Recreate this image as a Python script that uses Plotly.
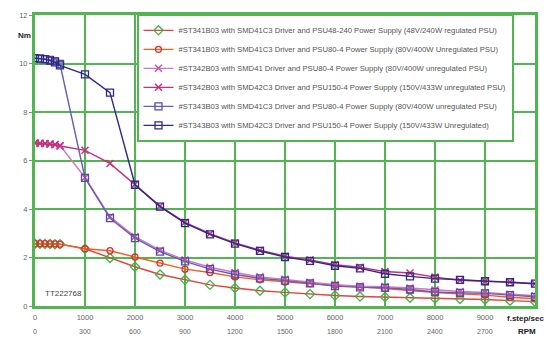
import plotly.graph_objects as go

# Speed points (full steps per second)
speed = [0, 100, 200, 300, 400, 500, 1000, 1500, 2000, 2500, 3000, 3500, 4000,
         4500, 5000, 5500, 6000, 6500, 7000, 7500, 8000, 8500, 9000, 9500, 10000]

# Pull-out torque (Nm) for each motor / driver / power supply combination
t_st341_psu48 = [2.57, 2.57, 2.56, 2.56, 2.55, 2.55, 2.36, 1.98, 1.62, 1.30, 1.08, 0.87, 0.74,
                 0.63, 0.56, 0.49, 0.43, 0.39, 0.37, 0.34, 0.31, 0.29, 0.27, 0.22, 0.18]
t_st341_psu80 = [2.57, 2.57, 2.57, 2.56, 2.56, 2.55, 2.36, 2.28, 2.02, 1.77, 1.52, 1.38, 1.20,
                 1.08, 0.99, 0.92, 0.86, 0.80, 0.72, 0.64, 0.55, 0.50, 0.45, 0.36, 0.30]
t_st342_psu80 = [6.72, 6.70, 6.70, 6.68, 6.66, 6.62, 5.30, 3.68, 2.86, 2.30, 1.90, 1.60, 1.38,
                 1.20, 1.10, 0.98, 0.88, 0.82, 0.80, 0.74, 0.66, 0.60, 0.56, 0.48, 0.42]
t_st342_psu150 = [6.72, 6.71, 6.70, 6.68, 6.65, 6.60, 6.42, 5.88, 5.02, 4.12, 3.45, 2.98, 2.60,
                  2.30, 2.05, 1.90, 1.70, 1.60, 1.42, 1.36, 1.19, 1.06, 1.02, 0.99, 0.92]
t_st343_psu80 = [10.22, 10.20, 10.18, 10.15, 10.10, 9.98, 5.28, 3.62, 2.80, 2.24, 1.84, 1.52, 1.30,
                 1.14, 1.05, 0.93, 0.82, 0.77, 0.75, 0.68, 0.58, 0.54, 0.52, 0.45, 0.38]
t_st343_psu150 = [10.22, 10.20, 10.18, 10.12, 10.05, 9.92, 9.55, 8.80, 5.00, 4.10, 3.42, 2.95, 2.57,
                  2.27, 2.02, 1.86, 1.66, 1.55, 1.33, 1.22, 1.13, 1.08, 1.02, 0.98, 0.92]

names = [
    "#ST341B03 with SMD41C3 Driver and PSU48-240 Power Supply (48V/240W regulated PSU)",
    "#ST341B03 with SMD41C3 Driver and PSU80-4 Power Supply (80V/400W Unregulated PSU)",
    "#ST342B03 with SMD41 Driver and PSU80-4 Power Supply (80V/400W unregulated PSU)",
    "#ST342B03 with SMD42C3 Driver and PSU150-4 Power Supply (150V/433W unregulated PSU)",
    "#ST343B03 with SMD41C3 Driver and PSU80-4 Power Supply (80V/400W unregulated PSU)",
    "#ST343B03 with SMD42C3 Driver and PSU150-4 Power Supply (150V/433W Unregulated)",
]

# Axis tick labels: step rate and the equivalent shaft speed (200 steps/rev)
step_ticks = [0, 1000, 2000, 3000, 4000, 5000, 6000, 7000, 8000, 9000]
rpm_ticks = ["0", "300", "600", "900", "1200", "1500", "1800", "2100", "2400", "2700"]
torque_ticks = [0, 2, 4, 6, 8, 10, 12]

GREEN = "#52b552"
FONT = "Liberation Sans, Arial, sans-serif"

styles = [
    dict(line="#e8403c", marker=dict(symbol="diamond-open", color="#3cb44a", size=7)),
    dict(line="#f0601e", marker=dict(symbol="circle-open", color="#e0302a", size=6)),
    dict(line="#d276c4", marker=dict(symbol="x-thin", color="#cc50b0", size=7,
                                     line=dict(width=1.5, color="#cc50b0"))),
    dict(line="#c4317c", marker=dict(symbol="x-thin", color="#c4317c", size=7,
                                     line=dict(width=1.5, color="#c4317c"))),
    dict(line="#6b5bb2", marker=dict(symbol="square-open", color="#5a4aa8", size=7)),
    dict(line="#2e2a86", marker=dict(symbol="square-open", color="#2e2a86", size=7)),
]

series = [t_st341_psu48, t_st341_psu80, t_st342_psu80, t_st342_psu150, t_st343_psu80, t_st343_psu150]

fig = go.Figure()
for i, (name, vals, st) in enumerate(zip(names, series, styles)):
    mk = dict(st["marker"])
    if "line" not in mk:
        mk["line"] = dict(width=1.3, color=mk["color"])
    fig.add_trace(go.Scatter(
        x=speed, y=vals, name=name, mode="lines+markers",
        line=dict(color=st["line"], width=1.4),
        marker=mk, legendgroup=f"g{i}",
    ))

annotations = [
    dict(text="Nm", x=-0.005, y=0.929, xref="paper", yref="paper", xanchor="right", yanchor="middle",
         showarrow=False, font=dict(size=8, color="#222", family=FONT, weight="bold")),
    dict(text="f.step/sec", x=0.94, y=-0.044, xref="paper", yref="paper", xanchor="left", yanchor="middle",
         showarrow=False, font=dict(size=8, color="#222", family=FONT, weight="bold")),
    dict(text="RPM", x=0.983, y=-0.088, xref="paper", yref="paper", xanchor="center", yanchor="middle",
         showarrow=False, font=dict(size=8, color="#222", family=FONT, weight="bold")),
    dict(text="TT222768", x=0.016, y=0.044, xref="paper", yref="paper", xanchor="left", yanchor="middle",
         showarrow=False, font=dict(size=8, color="#444", family=FONT)),
]
for s, r in zip(step_ticks, rpm_ticks):
    annotations.append(dict(text=r, x=s, y=-0.088, xref="x", yref="paper", xanchor="center",
                            yanchor="middle", showarrow=False,
                            font=dict(size=7, color="#666", family=FONT)))

fig.update_layout(
    width=549, height=339,
    margin=dict(l=35, r=12, t=11, b=33),
    paper_bgcolor="white", plot_bgcolor="white",
    font=dict(family=FONT, size=8, color="#666"),
    showlegend=True,
    legend=dict(
        x=0.203, y=1.004, xanchor="left", yanchor="top",
        bgcolor="white", bordercolor=GREEN, borderwidth=2,
        font=dict(size=7.7, color="#555", family=FONT),
        tracegroupgap=0, itemwidth=30,
    ),
    xaxis=dict(
        range=[0, 10000], tickvals=step_ticks, ticktext=[str(v) for v in step_ticks],
        showgrid=True, gridcolor=GREEN, gridwidth=2, zeroline=False,
        showline=True, linecolor=GREEN, linewidth=3, mirror=True,
        ticks="", ticklabelstandoff=2,
        tickfont=dict(size=7.5, color="#666", family=FONT),
    ),
    yaxis=dict(
        range=[0, 12], tickvals=torque_ticks,
        showgrid=True, gridcolor=GREEN, gridwidth=2, zeroline=False,
        showline=True, linecolor=GREEN, linewidth=3, mirror=True,
        ticks="outside", ticklen=3, tickcolor=GREEN,
        tickfont=dict(size=7.5, color="#666", family=FONT),
    ),
    annotations=annotations,
)

fig.write_html("out.html")
